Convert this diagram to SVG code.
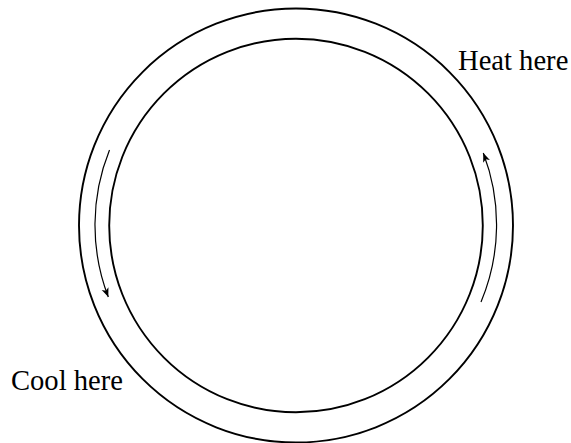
<svg xmlns="http://www.w3.org/2000/svg" width="571" height="443" viewBox="0 0 571 443">
<style>
.ring{fill:none;stroke:#000;stroke-width:1.9}
.flow{fill:none;stroke:#000;stroke-width:1.2;marker-end:url(#ah)}
.lbl{font-family:"Liberation Serif","Times New Roman",serif;font-size:28.6px;fill:#000}
</style>
<defs>
<marker id="ah" viewBox="-1 -5 11 10" refX="9" refY="0" markerWidth="11" markerHeight="10" markerUnits="userSpaceOnUse" orient="auto">
<path d="M0,-3.6 L9,0 L0,3.6 L2.2,0 z" fill="#000"/>
</marker>
</defs>
<rect width="571" height="443" fill="#fff"/>
<g id="pipe">
<circle class="ring" cx="296" cy="225.5" r="217"/>
<circle class="ring" cx="296" cy="225.5" r="186.8"/>
</g>
<g id="connectors">
<path class="flow" d="M109.5,150 A201,201 0 0 0 108.3,297"/>
<path class="flow" d="M481,302 A200,200 0 0 0 483.3,153"/>
</g>
<g id="heat-label"><text class="lbl" x="458" y="70">Heat here</text></g>
<g id="cool-label"><text class="lbl" x="11" y="390">Cool here</text></g>
</svg>
